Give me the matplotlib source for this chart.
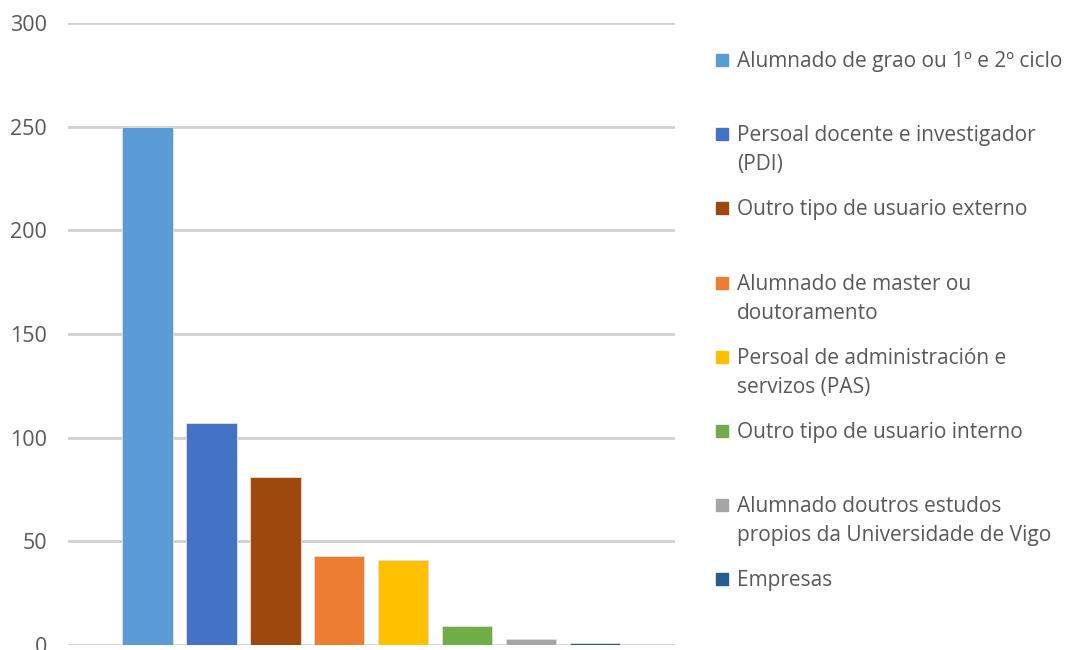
import numpy as np
import matplotlib.pyplot as plt
import matplotlib.patches as mpatches

plt.rcParams['font.family'] = ['Open Sans', 'DejaVu Sans']

labels = ['Alumnado de grao ou 1º e 2º ciclo',
          'Persoal docente e investigador\n(PDI)',
          'Outro tipo de usuario externo',
          'Alumnado de master ou\ndoutoramento',
          'Persoal de administración e\nservizos (PAS)',
          'Outro tipo de usuario interno',
          'Alumnado doutros estudos\npropios da Universidade de Vigo',
          'Empresas']
values = [250, 107, 81, 43, 41, 9, 3, 1]
colors = ['#5B9BD5', '#4472C4', '#9E480E', '#ED7D31',
          '#FFC000', '#70AD47', '#A5A5A5', '#255E91']
yticks = [0, 50, 100, 150, 200, 250, 300]

fig = plt.figure(figsize=(10.71, 6.5), dpi=100)
ax = fig.add_axes((68/1071, 5/650, 607/1071, 622/650))

x = np.arange(len(values))
ax.bar(x, values, width=0.79, color=colors, edgecolor='#e0e0e0', linewidth=0.6, zorder=3)

ax.set_ylim(0, 300)
ax.set_xlim(-1.24, len(values) - 1 + 1.25)
ax.set_yticks(yticks)
ax.set_xticks([])
ax.grid(axis='y', color='#d0d0d0', linewidth=2, zorder=0)
ax.tick_params(axis='y', length=0, pad=15, labelsize=15.5, labelcolor='#595959')
for s in ax.spines.values():
    s.set_visible(False)

# legend, laid out like the Excel one
for i, (lab, c) in enumerate(zip(labels, colors)):
    yc = 60 + i * 74.2
    fig.patches.append(mpatches.Rectangle((716/1071, 1 - (yc + 6)/650), 12/1071, 12/650,
                                          transform=fig.transFigure, color=c))
    fig.text(737/1071, 1 - (yc - 9)/650, lab, fontsize=15, color='#595959',
             va='top', ha='left', linespacing=1.5)

fig.savefig('out.png', dpi=100)
